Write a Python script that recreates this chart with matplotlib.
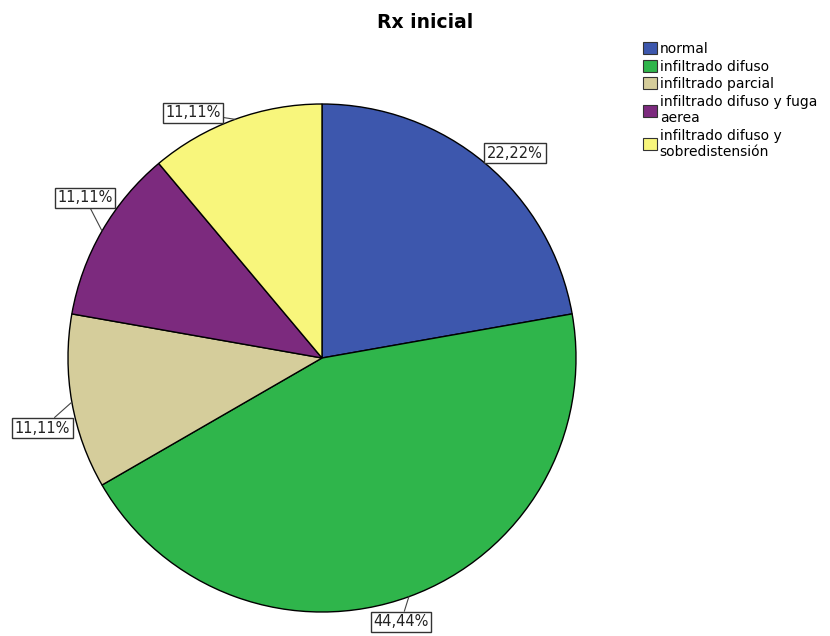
import numpy as np
import matplotlib
matplotlib.use("Agg")
import matplotlib.pyplot as plt

# ── Data ─────────────────────────────────────────────────────────────────────
CATEGORIES = [
    "normal",
    "infiltrado difuso",
    "infiltrado parcial",
    "infiltrado difuso y fuga\naerea",
    "infiltrado difuso y\nsobredistensión",
]
COUNTS = [2, 4, 1, 1, 1]
COLORS = ["#3d57ad", "#2fb54b", "#d5cd9b", "#7c2a7e", "#f8f67c"]

# label box positions (data coords, pie radius = 1)
LABEL_POS = [(0.76, 0.807), (0.311, -1.039), (-1.10, -0.276), (-0.933, 0.63), (-0.508, 0.965)]

# ── Figure ───────────────────────────────────────────────────────────────────
fig = plt.figure(figsize=(8.3, 6.36), dpi=100)
R_PX = 254
cx, cy = 322, 358
ax = fig.add_axes([(cx - 1.35 * R_PX) / 830, 1 - (cy + 1.35 * R_PX) / 636,
                   2.7 * R_PX / 830, 2.7 * R_PX / 636])

wedges, _ = ax.pie(COUNTS, colors=COLORS, startangle=90, counterclock=False,
                   radius=1.0, wedgeprops=dict(edgecolor="black", linewidth=1.0))
ax.set_xlim(-1.35, 1.35)
ax.set_ylim(-1.35, 1.35)
ax.set_aspect("equal")
ax.axis("off")

total = sum(COUNTS)
for w, n, pos in zip(wedges, COUNTS, LABEL_POS):
    mid = np.deg2rad((w.theta1 + w.theta2) / 2)
    edge = (np.cos(mid), np.sin(mid))
    pct = f"{100 * n / total:.2f}%".replace(".", ",")
    ax.annotate(pct, xy=edge, xytext=pos, ha="center", va="center",
                fontsize=10.5, color="#222222", annotation_clip=False,
                bbox=dict(boxstyle="square,pad=0.18", fc="white", ec="#333333", lw=1.0),
                arrowprops=dict(arrowstyle="-", color="#444444", lw=0.8,
                                shrinkA=0, shrinkB=0))

fig.text(425 / 830, 1 - 23 / 636, "Rx inicial", ha="center", va="center",
         fontsize=13.5, fontweight="bold")

handles = [plt.Rectangle((0, 0), 1, 1, fc=c, ec="#333333", lw=0.8) for c in COLORS]
fig.legend(handles, CATEGORIES, loc="upper left",
           bbox_to_anchor=(643 / 830, 1 - 42 / 636), frameon=False,
           fontsize=10, handlelength=1.0, handleheight=0.95, handletextpad=0.2,
           labelspacing=0.26, borderpad=0, borderaxespad=0)

plt.savefig("out.png", dpi=100)
plt.close()
